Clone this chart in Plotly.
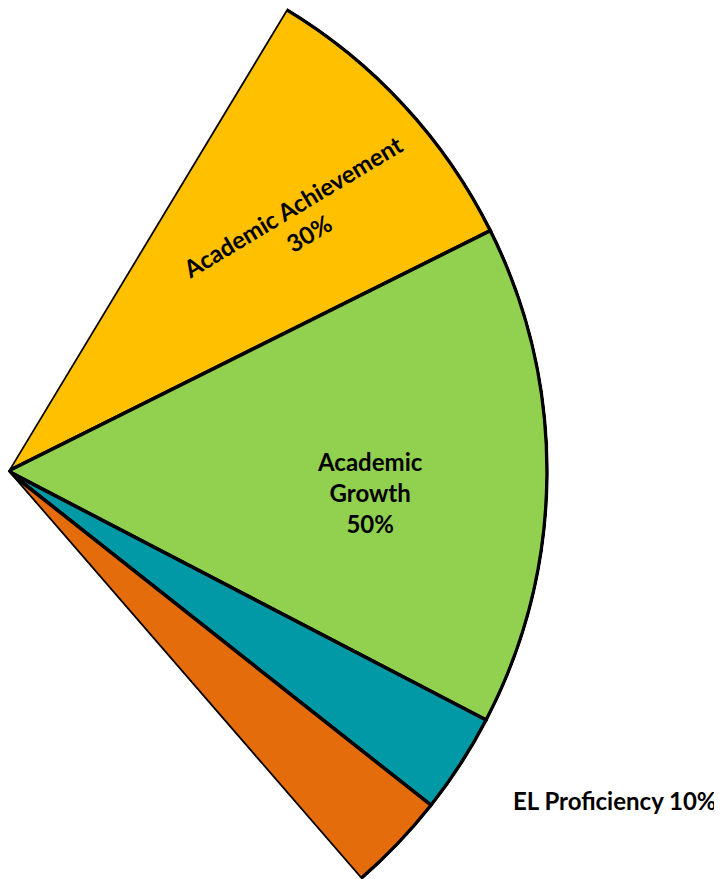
import math
import plotly.graph_objects as go

# Data
categories = ["Academic Achievement", "Academic Growth", "EL Proficiency", "Other"]
values = [30, 50, 10, 10]
colors = ["#FFC000", "#92D050", "#0099A5", "#E46C0A"]

W, H = 722, 879
OFF = 8                      # page body margin offset
start_angle = 58.9           # screen angle of first slice edge (deg, ccw from right)
span = 108.0                 # total visible sector angle
deg_per = span / sum(values)

thetas, widths = [], []
cum = 0
for v in values:
    thetas.append(start_angle - (cum + v / 2) * deg_per)
    widths.append(v * deg_per)
    cum += v

fig = go.Figure()
fig.add_trace(go.Barpolar(
    r=[1] * len(values),
    theta=thetas,
    width=widths,
    marker=dict(color=colors, line=dict(color="black", width=3.5)),
    text=categories,
    hoverinfo="text",
    showlegend=False,
))

rmax = 1.0035
Rd = 540.9
s_top = math.sin(math.radians(start_angle))
s_bot = math.sin(math.radians(span - start_angle))
sector_h = (s_top + s_bot) * Rd

fig.update_layout(
    width=W, height=H,
    margin=dict(l=0, r=0, t=0, b=0),
    paper_bgcolor="white",
    polar=dict(
        domain=dict(x=[0, Rd / W], y=[1 - sector_h / H, 1]),
        sector=[start_angle - span, start_angle],
        bgcolor="rgba(0,0,0,0)",
        hole=0,
        radialaxis=dict(visible=False, range=[0, rmax], showgrid=False),
        angularaxis=dict(visible=False, showgrid=False, rotation=0, direction="counterclockwise"),
        bargap=0,
    ),
)

font = dict(family="Lato, Carlito, Liberation Sans", size=24, color="black", weight="bold")

def px(x, y):
    return (x - OFF) / W, 1 - (y - OFF) / H

labels = [
    ("Academic Achievement<br>30%", 300, 220, -31),
    ("Academic<br>Growth<br>50%", 370, 493, 0),
    ("EL Proficiency 10%", 615, 800, 0),
]
for txt, lx, ly, ang in labels:
    ax, ay = px(lx, ly)
    fig.add_annotation(x=ax, y=ay, xref="paper", yref="paper",
                       xanchor="center", yanchor="middle",
                       text=txt, showarrow=False, textangle=ang,
                       font=font, align="center")

fig.write_html("out.html")
